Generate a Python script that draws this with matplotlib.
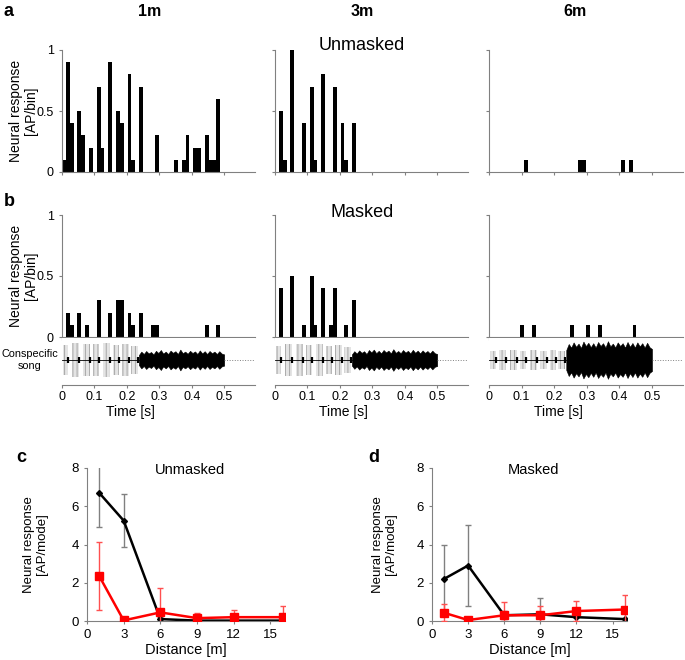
import numpy as np
import matplotlib.pyplot as plt

plt.rcParams['font.family'] = ['Liberation Sans', 'DejaVu Sans']
plt.rcParams['hatch.linewidth'] = 0.7

GREY = '#808080'

# ---- PSTH data: bin index (bin = 11.9 ms) and response [AP/bin]
bin_w = 0.0119
un1_bins = [0, 1, 2, 4, 5, 7, 9, 10, 12, 14, 15, 17, 18, 20, 24, 29, 31, 32, 34, 35, 37, 38, 39, 40]
un1_vals = [0.1, 0.9, 0.4, 0.5, 0.3, 0.2, 0.7, 0.2, 0.9, 0.5, 0.4, 0.8, 0.1, 0.7, 0.3, 0.1, 0.1, 0.3, 0.2, 0.2, 0.3, 0.1, 0.1, 0.6]
un3_bins = [1, 2, 4, 7, 9, 10, 12, 15, 17, 18, 20]
un3_vals = [0.5, 0.1, 1.0, 0.4, 0.7, 0.1, 0.8, 0.7, 0.4, 0.1, 0.4]
un6_bins = [9, 23, 24, 34, 36]
un6_vals = [0.1, 0.1, 0.1, 0.1, 0.1]
ma1_bins = [1, 2, 4, 6, 9, 12, 14, 15, 17, 18, 20, 23, 24, 37, 40]
ma1_vals = [0.2, 0.1, 0.2, 0.1, 0.3, 0.2, 0.3, 0.3, 0.2, 0.1, 0.2, 0.1, 0.1, 0.1, 0.1]
ma3_bins = [1, 4, 7, 9, 10, 12, 14, 15, 18, 20]
ma3_vals = [0.4, 0.5, 0.1, 0.5, 0.1, 0.4, 0.1, 0.4, 0.1, 0.3]
ma6_bins = [8, 11, 21, 25, 28, 37]
ma6_vals = [0.1, 0.1, 0.1, 0.1, 0.1, 0.1]

# ---- song oscillogram (read as envelopes)
syl_on = [0.002, 0.032, 0.064, 0.095, 0.126, 0.157, 0.186, 0.213]
syl_off = [0.020, 0.052, 0.085, 0.115, 0.148, 0.177, 0.206, 0.233]
syl_amp_1 = [0.75, 0.85, 0.80, 0.80, 0.85, 0.75, 0.80, 0.70]
syl_amp_3 = [0.70, 0.80, 0.80, 0.75, 0.80, 0.70, 0.75, 0.65]
syl_amp_6 = [0.45, 0.50, 0.50, 0.45, 0.50, 0.45, 0.50, 0.45]
env_1 = [0.25, 0.42, 0.30, 0.45, 0.33, 0.40, 0.28, 0.46, 0.35, 0.50, 0.32, 0.42,
         0.30, 0.47, 0.36, 0.44, 0.30, 0.52, 0.34, 0.42, 0.31, 0.46, 0.35, 0.43,
         0.30, 0.48, 0.33, 0.44, 0.30, 0.45, 0.34, 0.42, 0.30, 0.44, 0.32, 0.28]
env_3 = [0.28, 0.44, 0.32, 0.48, 0.36, 0.44, 0.30, 0.50, 0.38, 0.52, 0.34, 0.46,
         0.33, 0.50, 0.38, 0.47, 0.33, 0.54, 0.36, 0.45, 0.34, 0.50, 0.37, 0.46,
         0.33, 0.51, 0.36, 0.47, 0.33, 0.48, 0.36, 0.45, 0.33, 0.47, 0.34, 0.30]
env_6 = [0.50, 0.80, 0.62, 0.88, 0.66, 0.82, 0.60, 0.92, 0.70, 0.86, 0.64, 0.84,
         0.62, 0.90, 0.70, 0.84, 0.62, 0.94, 0.68, 0.82, 0.63, 0.88, 0.70, 0.84,
         0.62, 0.90, 0.66, 0.85, 0.62, 0.88, 0.68, 0.84, 0.62, 0.86, 0.64, 0.55]

# ---- distance data
dist = [1, 3, 6, 9, 12, 16]
c_black = [6.7, 5.25, 0.1, 0.02, 0.02, 0.02]
c_black_err = [1.8, 1.4, 0.1, 0.05, 0.05, 0.05]
c_red = [2.35, 0.03, 0.45, 0.15, 0.2, 0.2]
c_red_err = [1.8, 0.05, 1.25, 0.27, 0.4, 0.6]
d_black = [2.2, 2.9, 0.3, 0.35, 0.2, 0.1]
d_black_err = [1.8, 2.1, 0.2, 0.85, 0.3, 0.3]
d_red = [0.43, 0.05, 0.3, 0.3, 0.52, 0.6]
d_red_err = [0.45, 0.05, 0.7, 0.5, 0.5, 0.75]

W, H = 685, 660
fig = plt.figure(figsize=(W / 100, H / 100), dpi=100)


def box(x0, x1, y_top, y_bot):
    return [x0 / W, 1 - y_bot / H, (x1 - x0) / W, (y_bot - y_top) / H]


def style(ax):
    for s in ['top', 'right']:
        ax.spines[s].set_visible(False)
    for s in ['left', 'bottom']:
        ax.spines[s].set_color(GREY)
    ax.tick_params(colors=GREY, labelcolor='black', length=2.5, width=0.8)


cols = [(62, 255), (275, 468), (489, 683)]
psth = [[(un1_bins, un1_vals), (un3_bins, un3_vals), (un6_bins, un6_vals)],
        [(ma1_bins, ma1_vals), (ma3_bins, ma3_vals), (ma6_bins, ma6_vals)]]
rows = [(50, 172), (215, 337)]
for r, (yt, yb) in enumerate(rows):
    for c, (x0, x1) in enumerate(cols):
        ax = fig.add_axes(box(x0, x1, yt, yb))
        b, v = psth[r][c]
        ax.bar(np.array(b) * bin_w, v, width=bin_w, align='edge', color='black')
        ax.set_xlim(0, 0.595)
        ax.set_ylim(0, 1)
        ax.set_xticks([0, 0.1, 0.2, 0.3, 0.4, 0.5])
        ax.set_xticklabels([])
        ax.set_yticks([0, 0.5, 1])
        style(ax)
        if c == 0:
            ax.set_yticklabels(['0', '0.5', '1'], fontsize=9)
            ax.set_ylabel('Neural response\n[AP/bin]', fontsize=10, linespacing=1.1)
            ax.yaxis.set_label_coords(-0.124, 0.5)
        else:
            ax.set_yticklabels([])

# oscillograms
amps = [syl_amp_1, syl_amp_3, syl_amp_6]
envs = [env_1, env_3, env_6]
for c, (x0, x1) in enumerate(cols):
    ax = fig.add_axes(box(x0, x1, 338, 385))
    for on, off, a in zip(syl_on, syl_off, amps[c]):
        ax.fill_between([on, off], [-a, -a], [a, a], facecolor='#e4e4e4',
                        edgecolor='#a8a8a8', hatch='||||', lw=0)
    ax.plot([0, 0.5], [0, 0], color='black', lw=0.6)
    ax.vlines(syl_off, -0.15, 0.15, color='black', lw=1.6)
    env = np.array(envs[c])
    t = np.linspace(0.237, 0.5, len(env))
    ax.fill_between(t, -env, env, color='black', lw=0.4)
    ax.plot([0.5, 0.595], [0, 0], color=GREY, lw=0.7, ls=':')
    ax.set_xlim(0, 0.595)
    ax.set_ylim(-1.25, 1.1)
    ax.set_yticks([])
    ax.spines['left'].set_visible(False)
    style(ax)
    ax.set_xticks([0, 0.1, 0.2, 0.3, 0.4, 0.5])
    ax.set_xticklabels(['0', '0.1', '0.2', '0.3', '0.4', '0.5'], fontsize=9)
    ax.tick_params(axis='x', pad=1.5)
    ax.set_xlabel('Time [s]', fontsize=10, labelpad=2)
    ax.xaxis.set_label_coords(0.357, -0.42)

fig.text(30 / W, 1 - 360 / H, 'Conspecific\nsong', fontsize=7.8, ha='center', va='center')

# column headers and panel letters
for x, s in zip([150, 362, 575], ['1m', '3m', '6m']):
    fig.text(x / W, 1 - 11 / H, s, fontsize=11.5, fontweight='bold', ha='center', va='center')
fig.text(362 / W, 1 - 45 / H, 'Unmasked', fontsize=13, ha='center', va='center')
fig.text(362 / W, 1 - 212 / H, 'Masked', fontsize=13, ha='center', va='center')
fig.text(4 / W, 1 - 11 / H, 'a', fontsize=13, fontweight='bold', va='center')
fig.text(4 / W, 1 - 201 / H, 'b', fontsize=13, fontweight='bold', va='center')
fig.text(16 / W, 1 - 457 / H, 'c', fontsize=13, fontweight='bold', va='center')
fig.text(368 / W, 1 - 457 / H, 'd', fontsize=13, fontweight='bold', va='center')

# distance panels
panels = [((87, 285), c_black, c_black_err, c_red, c_red_err, 'Unmasked', -0.197),
          ((432, 627), d_black, d_black_err, d_red, d_red_err, 'Masked', -0.18)]
for (x0, x1), kb, kbe, kr, kre, title, lx in panels:
    ax = fig.add_axes(box(x0, x1, 468, 621))
    ax.errorbar(dist, kb, yerr=kbe, color='black', lw=1.8, marker='D', ms=3,
                ecolor=GREY, elinewidth=1, capsize=2.5, zorder=2)
    ax.errorbar(dist, kr, yerr=kre, color='#ff0000', lw=1.8, marker='s', ms=6,
                ecolor='#ff5050', elinewidth=1, capsize=2.5, zorder=3)
    ax.set_xlim(0, 16.2)
    ax.set_ylim(0, 8)
    ax.set_xticks([0, 3, 6, 9, 12, 15])
    ax.set_yticks([0, 2, 4, 6, 8])
    style(ax)
    ax.tick_params(labelsize=9.5)
    ax.set_xlabel('Distance [m]', fontsize=10.5, labelpad=1)
    ax.set_ylabel('Neural response\n[AP/mode]', fontsize=9.5, linespacing=1.1)
    ax.yaxis.set_label_coords(lx, 0.5)
    ax.text(0.52, 0.99, title, transform=ax.transAxes, fontsize=10.5, ha='center', va='center')

fig.savefig('out.png', dpi=100)
